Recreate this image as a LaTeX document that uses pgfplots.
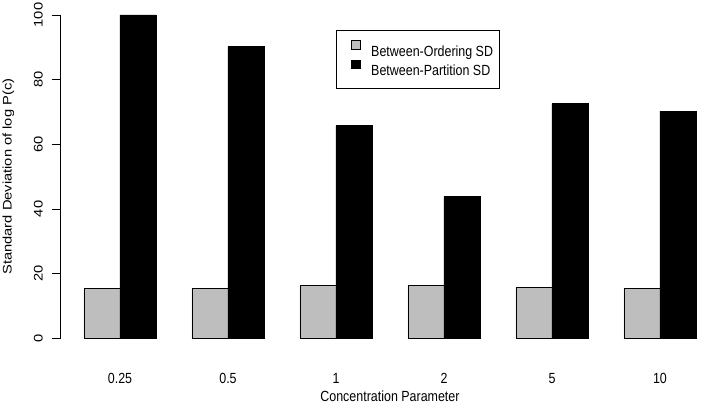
\documentclass[border=0pt]{standalone}
\usepackage{pgfplots}
\pgfplotsset{compat=1.18}
\usepackage{graphicx}
\usepackage{fontspec}
\setmainfont{Liberation Sans}

\definecolor{rgrey}{HTML}{BEBEBE}

% horizontal text is set slightly taller than wide; rotated text slightly longer
\newcommand{\tall}[1]{\scalebox{1}[1.18]{#1}}
\newcommand{\wide}[1]{\scalebox{1.18}[1]{#1}}
\newcommand{\chartfont}{\fontsize{12.5}{15}\selectfont}

\begin{document}
\begin{tikzpicture}
\begin{axis}[
    at={(60.7bp,66.7bp)}, anchor=south west,
    scale only axis,
    width=642.1bp, height=323.3bp,
    xmin=0.353, xmax=18.19,
    ymin=0, ymax=100,
    enlargelimits=false,
    clip=false,
    axis y line*=left,
    axis x line*=bottom,
    x axis line style={draw=none},
    y axis line style={line width=0.8bp, black},
    xtick={2,5,8,11,14,17},
    xticklabels={\tall{0.25},\tall{0.5},\tall{1},\tall{2},\tall{5},\tall{10}},
    x tick style={draw=none},
    ytick={0,20,40,60,80,100},
    yticklabels={\wide{0},\wide{20},\wide{40},\wide{60},\wide{80},\wide{100}},
    y tick style={line width=0.8bp, black},
    tick align=outside,
    major tick length=9bp,
    tick label style={font=\chartfont},
    xticklabel style={anchor=base, inner sep=0pt, yshift=-35.7bp},
    yticklabel style={rotate=90, anchor=base, inner sep=0pt},
    yticklabel shift=9bp,
    label style={font=\chartfont, inner sep=0pt},
    xlabel={\tall{Concentration Parameter}},
    xlabel style={at={(axis description cs:0.5128,-0.1950)}, anchor=base},
    ylabel={\wide{Standard Deviation of log P(c)}},
    ylabel style={at={(axis description cs:-0.0816,0.5)}, anchor=center, rotate=0},
    ybar=0pt,
    bar width=36bp,
    legend style={
        at={(axis description cs:0.4288,0.9536)}, anchor=north west,
        draw=black, line width=0.8bp,
        inner xsep=6.5bp, inner ysep=10bp,
        font=\chartfont,
        nodes={inner sep=0pt, text height=14.3bp, text depth=2.7bp},
        column sep=10.7bp, row sep=1bp,
    },
    legend cell align=left,
    legend image code/.code={
        \path (-8.2bp,0bp);
        \draw[#1, line width=0.8bp] (0bp,1bp) rectangle (8.6bp,9.6bp);
    },
]
% Between-ordering standard deviation
\addplot[fill=rgrey, draw=black, line width=0.8bp] coordinates {
    (2,15.5) (5,15.5) (8,16.3) (11,16.3) (14,15.8) (17,15.3)
};
% Between-partition standard deviation
\addplot[fill=black, draw=black, line width=0.8bp] coordinates {
    (2,100.0) (5,90.2) (8,65.8) (11,43.8) (14,72.6) (17,70.3)
};
\legend{\tall{Between-Ordering SD},\tall{Between-Partition SD}}
\end{axis}
\pgfresetboundingbox
\path[use as bounding box] (0,0) rectangle (703bp,405bp);
\end{tikzpicture}
\end{document}
